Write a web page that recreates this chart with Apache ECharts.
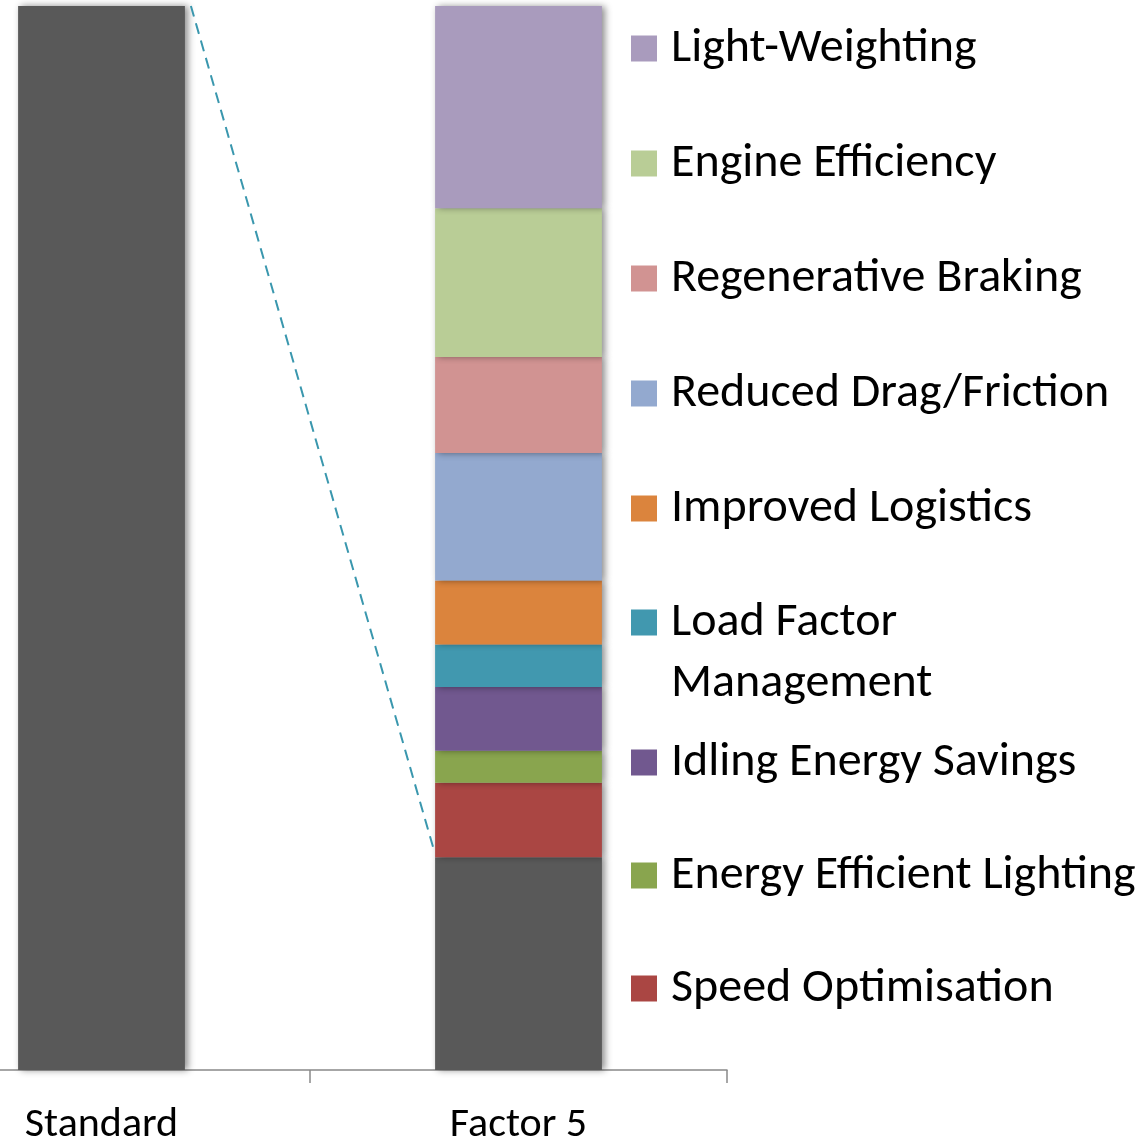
<!DOCTYPE html>
<html>
<head>
<meta charset="utf-8">
<script src="https://cdn.jsdelivr.net/npm/echarts@6/dist/echarts.min.js"></script>
<style>
html,body{margin:0;padding:0;background:#fff;}
#chart{width:1136px;height:1142px;}
</style>
</head>
<body>
<div id="chart"></div>
<script>
// ---- data ----
var categories = ['Standard', 'Factor 5'];
var baseValues = [100, 20];               // remaining consumption (grey)
var measureNames = [
  'Speed Optimisation',
  'Energy Efficient Lighting',
  'Idling Energy Savings',
  'Load Factor Management',
  'Improved Logistics',
  'Reduced Drag/Friction',
  'Regenerative Braking',
  'Engine Efficiency',
  'Light-Weighting'
];
var measureValues = [7, 3, 6, 4, 6, 12, 9, 14, 19];  // savings on Factor 5 bar
var measureColors = ['#AA4643', '#89A54E', '#71588F', '#4198AF', '#DB843D',
                     '#93A9CF', '#D19392', '#B9CD96', '#A99BBD'];
var legendTopGroup = ['Light-Weighting', 'Engine Efficiency', 'Regenerative Braking',
                      'Reduced Drag/Friction', 'Improved Logistics'];
var legendMidGroup = ['Load Factor Management'];
var legendBottomGroup = ['Idling Energy Savings', 'Energy Efficient Lighting', 'Speed Optimisation'];

var FONT = 'Carlito, Lato, "Noto Sans", sans-serif';
var chart = echarts.init(document.getElementById('chart'), null, {renderer: 'canvas'});

var barShadow = {shadowBlur: 7, shadowColor: 'rgba(0,0,0,0.45)', shadowOffsetX: 3, shadowOffsetY: 0};

var series = [{
  name: 'Base',
  type: 'bar',
  stack: 'total',
  barWidth: '40%',
  data: baseValues,
  itemStyle: Object.assign({color: '#595959'}, barShadow),
  z: 2
}];
measureNames.forEach(function (n, i) {
  series.push({
    name: n,
    type: 'bar',
    stack: 'total',
    barWidth: '40%',
    data: [null, measureValues[i]],
    itemStyle: Object.assign({color: measureColors[i]}, barShadow),
    z: 2
  });
});
// dashed connector from top of Standard bar to top of the remaining grey block
series.push({
  type: 'custom',
  name: 'connector',
  data: [0],
  z: 3,
  silent: true,
  renderItem: function (params, api) {
    var s = api.coord([0, baseValues[0]]);
    var e = api.coord([1, baseValues[1]]);
    var half = api.size([1, 0])[0] * 0.2;
    return {
      type: 'line',
      shape: {x1: s[0] + half + 6, y1: s[1], x2: e[0] - half - 2, y2: e[1] - 10},
      style: {stroke: '#3A97AE', lineWidth: 2, lineDash: [11, 7], fill: null}
    };
  }
});

function legendCfg(names, top, gap, itemH, icon) {
  return {
    orient: 'vertical',
    left: 631,
    top: top,
    padding: 0,
    itemWidth: 26,
    itemHeight: itemH,
    itemGap: gap,
    icon: icon,
    selectedMode: false,
    data: names,
    formatter: function (n) {
      return n === 'Load Factor Management' ? 'Load Factor\nManagement' : n;
    },
    textStyle: {fontFamily: FONT, fontSize: 48, color: '#000', lineHeight: 61, padding: [0, 0, 0, 9]}
  };
}

chart.setOption({
  animation: false,
  backgroundColor: '#fff',
  grid: {left: -107, right: 409, top: 6, bottom: 72, outerBoundsMode: 'none', containLabel: false},
  xAxis: {
    type: 'category',
    data: categories,
    axisLine: {show: true, lineStyle: {color: '#898989', width: 1.5}},
    axisTick: {show: true, length: 13, lineStyle: {color: '#898989', width: 1.5}},
    axisLabel: {fontFamily: FONT, fontSize: 42, color: '#000', margin: 34}
  },
  yAxis: {
    type: 'value', min: 0, max: 100, show: false,
    splitLine: {show: false}
  },
  legend: [
    legendCfg(legendTopGroup, 18, 54, 26, 'rect'),
    // icon box is taller so that the square sits beside the first text line
    legendCfg(legendMidGroup, 592, 0, 87, 'path://M0,0L26,0L26,26L0,26Z M0,87L26,87L26,87Z'),
    legendCfg(legendBottomGroup, 732, 52, 26, 'rect')
  ],
  series: series
});
</script>
</body>
</html>
